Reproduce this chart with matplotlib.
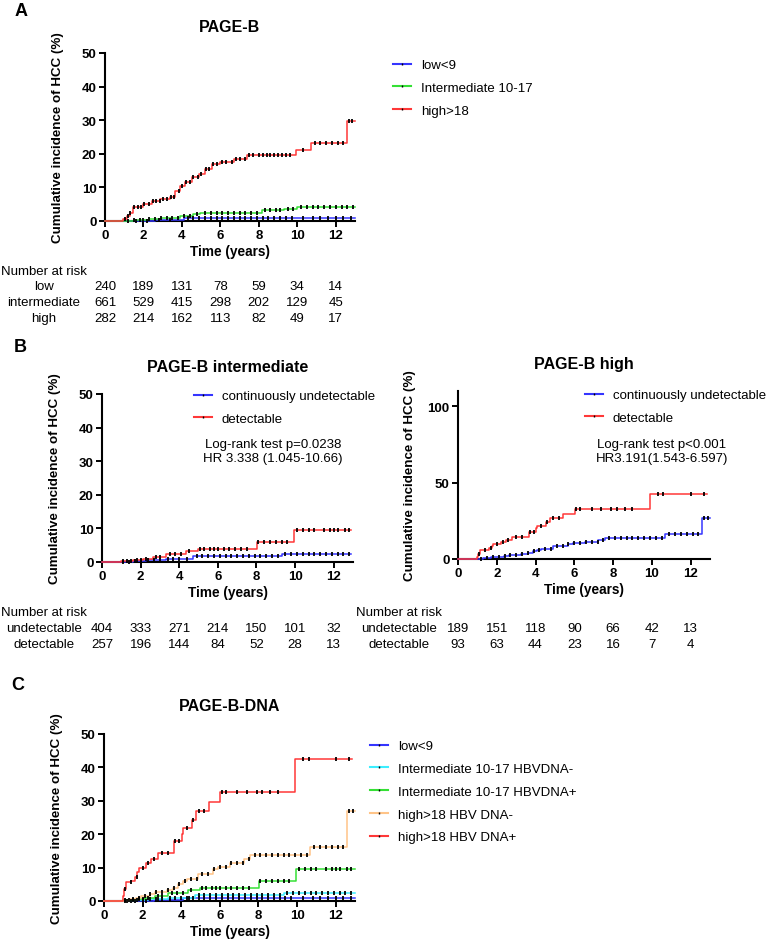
import numpy as np
import matplotlib
matplotlib.use("Agg")
import matplotlib.pyplot as plt
from matplotlib.lines import Line2D
from matplotlib.transforms import blended_transform_factory

plt.rcParams['font.family'] = ['Liberation Sans', 'DejaVu Sans']

# ---- data ----
# panel A: PAGE-B groups (event time, cumulative incidence %)
low_t = [2.6, 4.1]
low_y = [0.3, 0.9]
low_cens = [1.6, 2.2, 2.8, 3.4, 4.3, 4.6, 4.9, 5.2, 5.5, 5.8, 6.1, 6.4, 6.7, 7.0, 7.3, 7.6,
            7.9, 8.2, 8.5, 8.8, 9.1, 9.4, 9.7, 10.3, 10.8, 11.2, 11.6, 12.0, 12.4, 12.8]

int_t = [1.5, 2.3, 2.9, 3.9, 4.6, 4.95, 8.17, 9.3, 10.0]
int_y = [0.3, 0.7, 1.0, 1.5, 2.0, 2.5, 3.2, 3.7, 4.3]
int_cens = [1.2, 1.5, 1.8, 2.0, 2.3, 2.6, 2.9, 3.2, 3.5, 3.8, 4.1, 4.4, 4.8, 5.2, 5.5, 5.8,
            6.1, 6.4, 6.7, 7.0, 7.3, 7.6, 7.9, 8.3, 8.6, 8.9, 9.1, 9.5, 9.8, 10.2, 10.5,
            10.8, 11.1, 11.4, 11.7, 12.0, 12.3, 12.6, 12.9]

high_t = [0.96, 1.13, 1.3, 1.48, 2.0, 2.43, 2.87, 3.39, 3.65, 3.91, 4.17, 4.52, 4.87,
          5.22, 5.57, 6.0, 6.7, 7.39, 9.91, 10.7, 12.6]
high_y = [0.5, 1.5, 2.5, 4.2, 5.0, 6.0, 6.5, 7.0, 9.0, 10.5, 11.6, 13.0, 14.0, 15.4,
          17.0, 17.7, 18.6, 19.6, 21.2, 23.2, 29.9]
high_cens = [1.05, 1.2, 1.3, 1.5, 1.7, 1.85, 2.05, 2.3, 2.5, 2.65, 2.85, 3.0, 3.2, 3.45,
             3.6, 3.85, 4.0, 4.2, 4.4, 4.6, 4.85, 5.0, 5.25, 5.4, 5.6, 5.8, 6.1, 6.3, 6.6,
             6.8, 7.0, 7.3, 7.5, 7.7, 8.0, 8.2, 8.4, 8.6, 8.8, 9.0, 9.2, 9.4, 9.6, 10.3,
             10.9, 11.2, 11.5, 11.8, 12.1, 12.4, 12.7, 12.85]

# panel B left: PAGE-B intermediate by HBV DNA
int_undet_t = [1.6, 2.3, 3.3, 4.7, 9.33]
int_undet_y = [0.3, 0.6, 1.0, 1.8, 2.5]
int_undet_cens = [1.1, 1.4, 1.7, 2.0, 2.4, 2.7, 3.0, 3.4, 3.7, 4.0, 4.4, 4.9, 5.2, 5.5,
                  5.8, 6.1, 6.4, 6.7, 7.0, 7.3, 7.6, 7.9, 8.2, 8.5, 8.8, 9.1, 9.5, 9.8,
                  10.1, 10.4, 10.7, 11.0, 11.3, 11.6, 11.9, 12.2, 12.5, 12.8]
int_det_t = [1.0, 1.6, 2.1, 2.63, 3.32, 4.35, 4.98, 8.04, 9.93]
int_det_y = [0.3, 0.6, 1.0, 1.6, 2.3, 3.2, 4.0, 6.0, 9.5]
int_det_cens = [1.1, 1.3, 1.5, 1.8, 2.0, 2.3, 2.8, 3.0, 3.5, 3.8, 4.1, 4.5, 5.1, 5.3, 5.6,
                5.8, 6.0, 6.3, 6.6, 6.9, 7.2, 7.5, 8.1, 8.4, 8.7, 9.0, 9.3, 9.6, 10.1,
                10.4, 10.7, 11.0, 11.5, 11.8, 12.0, 12.2, 12.6, 12.8]

# panel B right: PAGE-B high by HBV DNA
high_undet_t = [1.3, 1.68, 1.94, 2.37, 2.63, 3.24, 3.59, 3.85, 4.07, 4.28, 4.89, 5.67,
                5.93, 6.53, 7.23, 7.57, 10.69, 12.6]
high_undet_y = [0.5, 1.0, 1.5, 2.2, 2.8, 3.2, 4.0, 5.0, 6.0, 6.7, 8.2, 9.5, 10.3, 11.3,
                12.7, 13.8, 16.3, 26.8]
high_undet_cens = [1.2, 1.5, 1.8, 2.1, 2.4, 2.7, 3.0, 3.3, 3.6, 3.9, 4.2, 4.5, 4.8, 5.1,
                   5.4, 5.7, 6.0, 6.3, 6.6, 6.9, 7.2, 7.5, 7.8, 8.1, 8.4, 8.7, 9.0, 9.3,
                   9.6, 9.9, 10.2, 10.5, 10.9, 11.2, 11.5, 11.8, 12.1, 12.4, 12.7, 12.9]
high_det_t = [0.99, 1.05, 1.13, 1.42, 1.6, 1.73, 1.82, 2.2, 2.46, 2.8, 3.64, 4.02, 4.1,
              4.54, 4.77, 5.42, 6.01, 9.91]
high_det_y = [1.5, 3.5, 5.7, 6.0, 7.3, 8.7, 9.9, 11.3, 12.7, 14.3, 18.0, 20.0, 21.8,
              24.3, 26.8, 29.5, 32.7, 42.5]
high_det_cens = [1.1, 1.4, 1.7, 2.0, 2.3, 2.6, 3.0, 3.3, 3.7, 3.9, 4.3, 4.6, 4.9, 5.2,
                 6.1, 6.3, 6.9, 7.4, 7.9, 8.2, 8.6, 9.0, 10.3, 10.6, 12.0, 12.7]

# number at risk
risk_times = [0, 2, 4, 6, 8, 10, 12]
risk_low = [240, 189, 131, 78, 59, 34, 14]
risk_int = [661, 529, 415, 298, 202, 129, 45]
risk_high = [282, 214, 162, 113, 82, 49, 17]
risk_int_undet = [404, 333, 271, 214, 150, 101, 32]
risk_int_det = [257, 196, 144, 84, 52, 28, 13]
risk_high_undet = [189, 151, 118, 90, 66, 42, 13]
risk_high_det = [93, 63, 44, 23, 16, 7, 4]

BLUE = '#3535ff'
GREEN = '#35e035'
RED = '#ff3838'
CYAN = '#3ceeff'
ORANGE = '#ffc488'

FS = 9.5  # body text size

W, H = 769, 945
fig = plt.figure(figsize=(W / 100, H / 100), dpi=100)


def fx(px):
    return px / W


def fy(py):
    return 1 - py / H


def make_ax(left, right, top, bottom, ymax, yticks):
    ax = fig.add_axes([fx(left), fy(bottom), (right - left) / W, (bottom - top) / H])
    ax.set_xlim(0, 13)
    ax.set_ylim(0, ymax)
    ax.set_xticks(risk_times)
    ax.set_yticks(yticks)
    for s in ['top', 'right']:
        ax.spines[s].set_visible(False)
    for s in ['left', 'bottom']:
        ax.spines[s].set_linewidth(1.5)
    ax.tick_params(direction='out', length=4, width=1.4, labelsize=FS, pad=2)
    for lab in ax.get_xticklabels() + ax.get_yticklabels():
        lab.set_fontweight('bold')
    ax.set_xlabel('Time (years)', fontsize=9.8, fontweight='bold', labelpad=2)
    ax.set_ylabel('Cumulative incidence of HCC (%)', fontsize=9.6, fontweight='bold')
    ax.yaxis.set_label_coords(-0.165, 0.5)
    return ax


def km(ax, t, y, end, cens, color):
    tt = [0] + t + [end]
    yy = [0] + y + [y[-1]]
    ax.step(tt, yy, where='post', color=color, lw=1.1, zorder=3, clip_on=False)
    idx = np.searchsorted(t, cens, side='right')
    cy = np.array([0] + y)[idx]
    ax.plot(cens, cy, ls='none', marker='|', ms=2.2, mew=1.3, color='k', zorder=4,
            clip_on=False)


def legend(ax, colors, labels, x, top):
    handles = [Line2D([], [], color=c, lw=1.5, marker='|', ms=2, mew=1, mec='k')
               for c in colors]
    ax.legend(handles, labels, loc='upper left', bbox_to_anchor=(fx(x), fy(top)),
              bbox_transform=fig.transFigure, frameon=False, borderpad=0,
              borderaxespad=0, handlelength=1.36, handletextpad=0.76,
              labelspacing=0.8, fontsize=FS, numpoints=1)


def risk_table(ax, rows, names, label_x, ys):
    trans = blended_transform_factory(ax.transData, fig.transFigure)
    fig.text(fx(label_x), fy(ys[0]), 'Number at risk', ha='center', va='center',
             fontsize=FS)
    for vals, name, py in zip(rows, names, ys[1:]):
        fig.text(fx(label_x), fy(py), name, ha='center', va='center', fontsize=FS)
        for t, v in zip(risk_times, vals):
            ax.text(t, fy(py), str(v), transform=trans, ha='center', va='center',
                    fontsize=FS)


def title(ax, text, y_px):
    ax.text(0.5, fy(y_px), text, transform=blended_transform_factory(ax.transAxes, fig.transFigure),
            ha='center', va='center', fontsize=11.5, fontweight='bold')


# ---- panel A ----
axA = make_ax(105, 355, 54, 222, 50, [0, 10, 20, 30, 40, 50])
km(axA, low_t, low_y, 13.0, low_cens, BLUE)
km(axA, int_t, int_y, 13.0, int_cens, GREEN)
km(axA, high_t, high_y, 13.0, high_cens, RED)
title(axA, 'PAGE-B', 28)
legend(axA, [BLUE, GREEN, RED], ['low<9', 'Intermediate 10-17', 'high>18'], 393, 60)
risk_table(axA, [risk_low, risk_int, risk_high], ['low', 'intermediate', 'high'], 44,
           [272, 287, 303, 319])
fig.text(fx(21), fy(11), 'A', ha='center', va='center', fontsize=13, fontweight='bold')

# ---- panel B left ----
axB1 = make_ax(102, 353, 395, 563, 50, [0, 10, 20, 30, 40, 50])
km(axB1, int_undet_t, int_undet_y, 12.9, int_undet_cens, BLUE)
km(axB1, int_det_t, int_det_y, 12.9, int_det_cens, RED)
title(axB1, 'PAGE-B intermediate', 368)
legend(axB1, [BLUE, RED], ['continuously undetectable', 'detectable'], 194, 391)
fig.text(fx(273), fy(445), 'Log-rank test p=0.0238', ha='center', va='center', fontsize=FS)
fig.text(fx(273), fy(459), 'HR 3.338 (1.045-10.66)', ha='center', va='center', fontsize=FS)
risk_table(axB1, [risk_int_undet, risk_int_det], ['undetectable', 'detectable'], 44,
           [613, 629, 645])
fig.text(fx(20), fy(347), 'B', ha='center', va='center', fontsize=13, fontweight='bold')

# ---- panel B right ----
axB2 = make_ax(458, 710, 392, 560, 110, [0, 50, 100])
km(axB2, high_undet_t, high_undet_y, 13.0, high_undet_cens, BLUE)
km(axB2, high_det_t, high_det_y, 12.87, high_det_cens, RED)
title(axB2, 'PAGE-B high', 365)
legend(axB2, [BLUE, RED], ['continuously undetectable', 'detectable'], 585, 390)
fig.text(fx(662), fy(445), 'Log-rank test p<0.001', ha='center', va='center', fontsize=FS)
fig.text(fx(662), fy(459), 'HR3.191(1.543-6.597)', ha='center', va='center', fontsize=FS)
risk_table(axB2, [risk_high_undet, risk_high_det], ['undetectable', 'detectable'], 399,
           [613, 629, 645])

# ---- panel C ----
axC = make_ax(104, 355, 735, 902, 50, [0, 10, 20, 30, 40, 50])
km(axC, low_t, low_y, 13.0, low_cens, BLUE)
km(axC, int_undet_t, int_undet_y, 13.0, int_undet_cens, CYAN)
km(axC, int_det_t, int_det_y, 13.0, int_det_cens, GREEN)
km(axC, high_undet_t, high_undet_y, 13.0, high_undet_cens, ORANGE)
km(axC, high_det_t, high_det_y, 12.86, high_det_cens, RED)
title(axC, 'PAGE-B-DNA', 707)
legend(axC, [BLUE, CYAN, GREEN, ORANGE, RED],
       ['low<9', 'Intermediate 10-17 HBVDNA-', 'Intermediate 10-17 HBVDNA+',
        'high>18 HBV DNA-', 'high>18 HBV DNA+'], 370, 741)
fig.text(fx(18), fy(685), 'C', ha='center', va='center', fontsize=13, fontweight='bold')

fig.savefig('out.png', dpi=100)
